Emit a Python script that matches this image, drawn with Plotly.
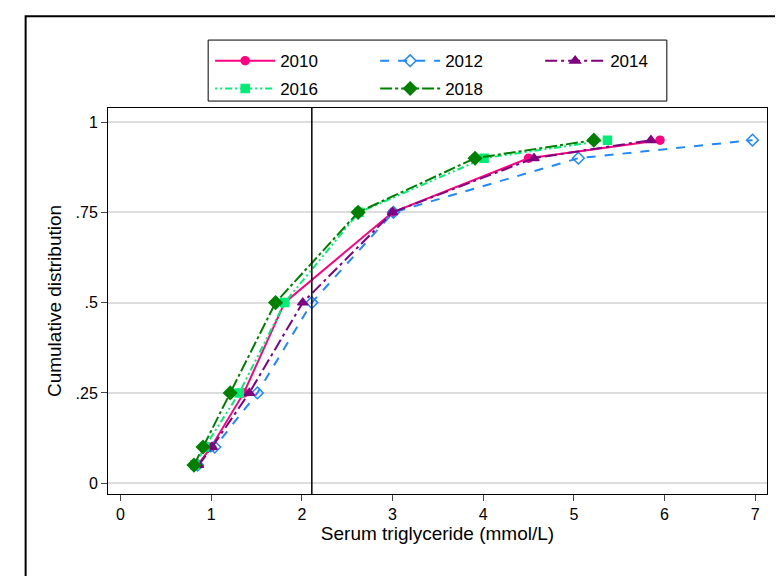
import plotly.graph_objects as go

quantiles = [0.05, 0.10, 0.25, 0.50, 0.75, 0.90, 0.95]
tg_2010 = [0.85, 1.00, 1.36, 1.81, 3.00, 4.50, 5.95]
tg_2012 = [0.85, 1.04, 1.51, 2.11, 3.01, 5.05, 6.97]
tg_2014 = [0.86, 1.01, 1.42, 2.01, 3.00, 4.56, 5.85]
tg_2016 = [0.82, 0.93, 1.31, 1.81, 2.63, 4.01, 5.37]
tg_2018 = [0.81, 0.91, 1.21, 1.71, 2.62, 3.91, 5.22]
cutoff = 2.11

series = [
    ("2010", tg_2010, "#ff0080", "solid", "circle", 8, "legend"),
    ("2012", tg_2012, "#1e88ff", "dash", "diamond-open", 9, "legend"),
    ("2014", tg_2014, "#800080", "12px,4px,3px,4px", "triangle-up", 9, "legend"),
    ("2016", tg_2016, "#00ee77", "2px,3px,2px,3px,7px,3px", "square", 8, "legend2"),
    ("2018", tg_2018, "#008000", "12px,3px,3px,3px", "diamond", 10, "legend2"),
]

fig = go.Figure()
for name, xs, col, dash, sym, size, leg in series:
    fig.add_trace(go.Scatter(
        x=xs, y=quantiles, name=name, mode="lines+markers", legend=leg,
        line=dict(color=col, width=2, dash=dash),
        marker=dict(symbol=sym, size=size, color=col, line=dict(color=col, width=1.5)),
    ))

fig.add_vline(x=cutoff, line=dict(color="black", width=1.5))

# outer frame around the graph region and legend box
fig.add_shape(type="rect", xref="paper", yref="paper", x0=-0.125, x1=1.024, y0=-0.3, y1=1.238,
              line=dict(color="black", width=2), layer="below")
fig.add_shape(type="rect", xref="paper", yref="paper", x0=0.152, x1=0.848, y0=1.018, y1=1.176,
              line=dict(color="black", width=1), layer="below")

leg_common = dict(orientation="h", xanchor="left", yanchor="top", bgcolor="rgba(0,0,0,0)",
                  entrywidth=90, entrywidthmode="pixels", itemwidth=60, font=dict(size=17))

fig.update_layout(
    width=783, height=576,
    margin=dict(l=100, r=24, t=100, b=90),
    paper_bgcolor="white", plot_bgcolor="white",
    font=dict(family="Liberation Sans, Arial", size=16, color="black"),
    showlegend=True,
    legend=dict(x=0.155, y=1.168, **leg_common),
    legend2=dict(x=0.155, y=1.096, **leg_common),
    xaxis=dict(range=[-0.138, 7.13], tickvals=list(range(8)), ticks="outside", ticklen=6,
               showgrid=False, zeroline=False, showline=True, linecolor="black", mirror=True,
               title=dict(text="Serum triglyceride (mmol/L)", standoff=2)),
    yaxis=dict(range=[-0.030, 1.039], tickvals=[0, 0.25, 0.5, 0.75, 1],
               ticktext=["0", ".25", ".5", ".75", "1"], ticks="outside", ticklen=6,
               showgrid=True, gridcolor="#dddddd", gridwidth=1.5, zeroline=False,
               showline=True, linecolor="black", mirror=True,
               title=dict(text="Cumulative distribution", standoff=8)),
)

fig.write_html("out.html")
